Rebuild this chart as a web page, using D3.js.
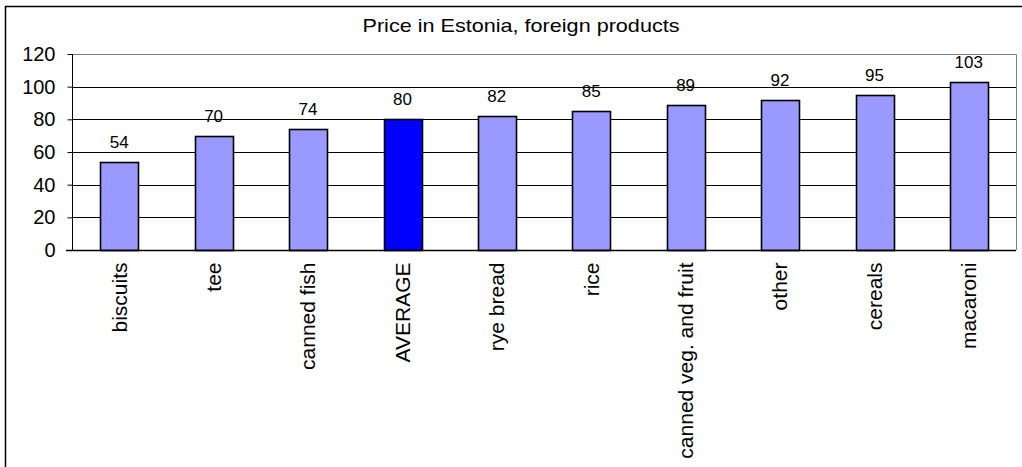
<!DOCTYPE html>
<html>
<head>
<meta charset="utf-8">
<script src="https://cdn.jsdelivr.net/npm/d3@7"></script>
<style>
  body { margin: 0; background: #fff; }
  svg text { font-family: "Liberation Sans", Arial, sans-serif; fill: #000; }
</style>
</head>
<body>
<svg id="chart" width="1022" height="467"></svg>
<script>
// DATA
var categories = ["biscuits", "tee", "canned fish", "AVERAGE", "rye bread", "rice", "canned veg. and fruit", "other", "cereals", "macaroni"];
var values = [54, 70, 74, 80, 82, 85, 89, 92, 95, 103];
var yTicks = [0, 20, 40, 60, 80, 100, 120];
var title = "Price in Estonia, foreign products";

var svg = d3.select("#chart");

// outer frame (runs off the bottom/right of the window)
svg.append("rect")
  .attr("x", 5.5).attr("y", 6.5)
  .attr("width", 1030).attr("height", 480)
  .attr("fill", "none").attr("stroke", "#000").attr("stroke-width", 1.5);

var plot = {left: 72, right: 1016, top: 54, bottom: 250};

var x = d3.scaleBand()
  .domain(categories)
  .range([plot.left, plot.right])
  .padding(0);

var y = d3.scaleLinear()
  .domain([0, 120])
  .range([plot.bottom, plot.top]);

// title
svg.append("text")
  .attr("x", 521).attr("y", 32)
  .attr("text-anchor", "middle")
  .attr("textLength", 317)
  .attr("lengthAdjust", "spacingAndGlyphs")
  .style("font-size", "19px")
  .text(title);

// gridlines
svg.append("g").selectAll("line")
  .data(yTicks.filter(function(d){ return d > 0 && d < 120; }))
  .enter().append("line")
    .attr("x1", plot.left).attr("x2", plot.right)
    .attr("y1", function(d){ return Math.round(y(d)) + 0.5; })
    .attr("y2", function(d){ return Math.round(y(d)) + 0.5; })
    .attr("stroke", "#000").attr("stroke-width", 1);

// plot border top / right (gray)
svg.append("path")
  .attr("d", "M" + plot.left + "," + (plot.top + 0.5) + "H" + (plot.right + 0.5) + "V" + plot.bottom)
  .attr("fill", "none").attr("stroke", "#808080").attr("stroke-width", 1);

// bars
var barW = x.bandwidth() * 0.4;
svg.append("g").selectAll("rect")
  .data(values)
  .enter().append("rect")
    .attr("x", function(d, i){ return Math.round(x(categories[i]) + (x.bandwidth() - barW) / 2) + 0.5; })
    .attr("y", function(d){ return Math.round(y(d)) + 0.5; })
    .attr("width", Math.round(barW))
    .attr("height", function(d){ return Math.round(y(0)) - Math.round(y(d)); })
    .attr("fill", function(d, i){ return categories[i] == "AVERAGE" ? "#0000FF" : "#9999FF"; })
    .attr("stroke", "#000").attr("stroke-width", 1.6);

// value labels
svg.append("g").selectAll("text")
  .data(values)
  .enter().append("text")
    .attr("x", function(d, i){ return x(categories[i]) + x.bandwidth() / 2; })
    .attr("y", function(d){ return y(d) - 14; })
    .attr("text-anchor", "middle")
    .style("font-size", "17px")
    .text(function(d){ return d; });

// y axis
var yAxis = svg.append("g")
  .attr("transform", "translate(" + (plot.left + 0.5) + ",0)")
  .call(d3.axisLeft(y).tickValues(yTicks).tickSize(5).tickPadding(12));
yAxis.select(".domain").attr("stroke", "#000").attr("d", "M0," + plot.top + "V" + plot.bottom);
yAxis.selectAll("line").attr("stroke", "#000");
yAxis.selectAll("text").style("font-size", "20px").style("font-family", "Liberation Sans, Arial, sans-serif");

// x axis
var xAxis = svg.append("g")
  .attr("transform", "translate(0," + (plot.bottom + 0.5) + ")")
  .call(d3.axisBottom(x).tickSize(0).tickPadding(0));
xAxis.select(".domain").attr("stroke", "#000").attr("stroke-width", 1.5).attr("d", "M" + (plot.left - 6) + ",0H" + plot.right);
xAxis.selectAll("text")
  .style("font-size", "21px")
  .style("font-family", "Liberation Sans, Arial, sans-serif")
  .attr("text-anchor", "end")
  .attr("dy", "0.35em")
  .attr("transform", "translate(0,12) rotate(-90)")
  .attr("x", 0).attr("y", 0);
</script>
</body>
</html>
